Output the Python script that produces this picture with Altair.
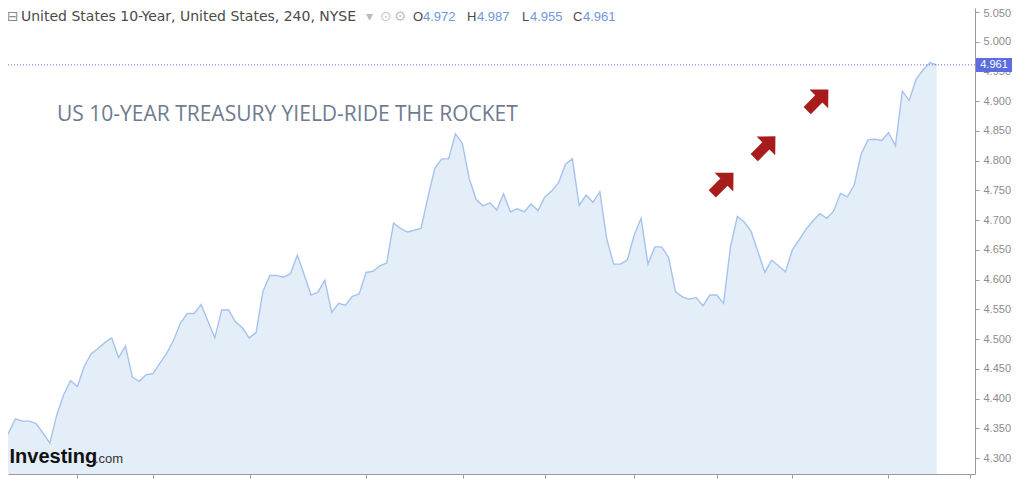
import altair as alt
import pandas as pd

# 240-minute closes of the US 10-year yield
yields = [4.325, 4.342, 4.366, 4.362, 4.362, 4.358, 4.342, 4.325, 4.372, 4.406,
          4.430, 4.420, 4.454, 4.475, 4.484, 4.494, 4.502, 4.469, 4.488, 4.436,
          4.429, 4.440, 4.442, 4.459, 4.476, 4.498, 4.527, 4.543, 4.543, 4.558,
          4.530, 4.502, 4.549, 4.549, 4.529, 4.519, 4.502, 4.511, 4.580, 4.607,
          4.607, 4.604, 4.610, 4.641, 4.608, 4.574, 4.579, 4.599, 4.545, 4.560,
          4.557, 4.572, 4.576, 4.612, 4.614, 4.623, 4.628, 4.695, 4.686, 4.680,
          4.683, 4.686, 4.739, 4.787, 4.803, 4.803, 4.845, 4.829, 4.770, 4.735,
          4.724, 4.729, 4.717, 4.744, 4.714, 4.719, 4.714, 4.727, 4.716, 4.739,
          4.749, 4.763, 4.794, 4.803, 4.725, 4.742, 4.730, 4.748, 4.669, 4.626,
          4.626, 4.633, 4.675, 4.703, 4.626, 4.655, 4.655, 4.637, 4.580, 4.571,
          4.567, 4.570, 4.556, 4.574, 4.574, 4.560, 4.655, 4.706, 4.697, 4.681,
          4.647, 4.612, 4.633, 4.623, 4.613, 4.650, 4.667, 4.685, 4.699, 4.711,
          4.703, 4.715, 4.745, 4.739, 4.759, 4.811, 4.835, 4.836, 4.834, 4.847,
          4.825, 4.917, 4.901, 4.937, 4.952, 4.965, 4.961]
bar_index = list(range(len(yields)))

x_tick_positions = [10.95, 22.0, 36.1, 53.0, 67.1, 79.0, 91.97, 104.0, 114.9, 128.9, 140.8]
x_tick_labels = ["21", "", "", "Oct", "", "", "", "", "", "", ""]
y_tick_values = [4.30, 4.35, 4.40, 4.45, 4.50, 4.55, 4.60, 4.65, 4.70, 4.75,
                 4.80, 4.85, 4.90, 4.95, 5.00, 5.05]
last_close = [4.961]
arrow_x = [104.9, 111.0, 118.7]
arrow_y = [4.762, 4.823, 4.902]
title_text = "US 10-YEAR TREASURY YIELD-RIDE THE ROCKET"

header_texts = ["⊟", "United States 10-Year, United States, 240, NYSE", "▾", "⊙", "⚙"]
header_x = [-1, 13, 358, 372, 386]
header_colors = ["#888888", "#4a4a4a", "#bbbbbb", "#c8c8c8", "#c8c8c8"]

ohlc_letters = ["O", "H", "L", "C"]
ohlc_values = ["4.972", "4.987", "4.955", "4.961"]
ohlc_letter_x = [405, 459, 514, 565]
ohlc_value_x = [415, 469, 522, 575]

W, H = 967, 466
x_domain = [0.916, 141.57]
y_domain = [4.2731, 5.0567]

df = pd.DataFrame({"i": bar_index, "y": yields})
xs = alt.Scale(domain=x_domain, nice=False, zero=False)
ys = alt.Scale(domain=y_domain, nice=False, zero=False)

expr_parts = []
for p, lab in zip(x_tick_positions, x_tick_labels):
    if lab:
        expr_parts.append(f"abs(datum.value - {p}) < 0.01 ? '{lab}'")
label_expr = " : ".join(expr_parts) + " : ''"

x_axis = alt.Axis(
    values=x_tick_positions, labelExpr=label_expr, orient="bottom", title=None,
    grid=False, domainColor="#9a9a9a", tickColor="#9a9a9a", tickSize=4,
    labelColor="#777777", labelFontSize=11, labelPadding=3, zindex=1,
    labelFont="Liberation Sans")
y_axis = alt.Axis(
    orient="right", values=y_tick_values, format=".3f", title=None, grid=False,
    domainColor="#9a9a9a", tickColor="#9a9a9a", tickSize=4, labelColor="#8c8c8c",
    labelFontSize=11, labelPadding=4, labelFont="Liberation Sans",
    labelOverlap=False, labelBound=False,
    labelOffset={"condition": {"test": "datum.value > 5.04", "value": 2}, "value": 0})

area = alt.Chart(df).mark_area(color="#e4eef9", clip=True).encode(
    x=alt.X("i:Q", scale=xs, axis=x_axis),
    y=alt.Y("y:Q", scale=ys, axis=y_axis),
    y2=alt.datum(y_domain[0]),
)

line = alt.Chart(df).mark_line(color="#a6c2ee", strokeWidth=1.4, clip=True).encode(
    x=alt.X("i:Q", scale=xs, axis=x_axis), y=alt.Y("y:Q", scale=ys, axis=y_axis))

lc = pd.DataFrame({"v": last_close})
price_line = alt.Chart(lc).mark_rule(color="#5a6fe0", strokeDash=[1, 2], strokeWidth=1).encode(
    y=alt.Y("v:Q", scale=ys, axis=y_axis), x=alt.value(0), x2=alt.value(W))
price_box = alt.Chart(lc).mark_rect(color="#5b6de0", yOffset=-7, y2Offset=7).encode(
    y=alt.Y("v:Q", scale=ys, axis=y_axis), y2="v:Q", x=alt.value(W + 1), x2=alt.value(W + 37))
price_text = alt.Chart(lc).mark_text(color="white", fontSize=11, align="center",
                                      baseline="middle", font="Liberation Sans").encode(
    y=alt.Y("v:Q", scale=ys, axis=y_axis), x=alt.value(W + 19),
    text=alt.Text("v:Q", format=".3f"))

arrow_path = "M -0.34 1 L -0.34 -0.1 L -0.88 -0.1 L 0 -1 L 0.88 -0.1 L 0.34 -0.1 L 0.34 1 Z"
arrows = alt.Chart(pd.DataFrame({"ax": arrow_x, "ay": arrow_y})).mark_point(
    shape=arrow_path, filled=True, color="#a81c1c", size=900, angle=45, opacity=1,
    strokeWidth=0).encode(x=alt.X("ax:Q", scale=xs, axis=x_axis),
                          y=alt.Y("ay:Q", scale=ys, axis=y_axis))

title = alt.Chart(pd.DataFrame({"t": [title_text]})).mark_text(
    align="left", baseline="middle", fontSize=21, font="Open Sans", color="#6e7b90").encode(
    x=alt.value(49), y=alt.value(107), text="t:N")

hdr = pd.DataFrame({"t": header_texts, "px": header_x, "c": header_colors})
header = alt.Chart(hdr).mark_text(align="left", baseline="middle", fontSize=14,
                                  font="DejaVu Sans").encode(
    x=alt.X("px:Q", scale=None), y=alt.value(9), text="t:N",
    color=alt.Color("c:N", scale=None))

ohlc = pd.DataFrame({"l": ohlc_letters, "v": ohlc_values,
                     "lx": ohlc_letter_x, "vx": ohlc_value_x})
ohlc_l = alt.Chart(ohlc).mark_text(align="left", baseline="middle", fontSize=13,
                                   font="Liberation Sans", color="#4a4a4a").encode(
    x=alt.X("lx:Q", scale=None), y=alt.value(9), text="l:N")
ohlc_v = alt.Chart(ohlc).mark_text(align="left", baseline="middle", fontSize=13,
                                   font="Liberation Sans", color="#6f95dd").encode(
    x=alt.X("vx:Q", scale=None), y=alt.value(9), text="v:N")

logo1 = alt.Chart(pd.DataFrame({"t": ["Investing"]})).mark_text(
    align="left", baseline="alphabetic", fontSize=20, fontWeight="bold",
    font="Liberation Sans", color="#111111", dx=-0.5).encode(
    x=alt.value(2), y=alt.value(455), text="t:N")
logo2 = alt.Chart(pd.DataFrame({"t": [".com"]})).mark_text(
    align="left", baseline="alphabetic", fontSize=13, font="Liberation Sans",
    color="#333333").encode(x=alt.value(87), y=alt.value(455), text="t:N")

chart = alt.layer(
    area, line, price_line, price_box, price_text, arrows, title, header,
    ohlc_l, ohlc_v, logo1, logo2
).properties(
    width=W, height=H,
    padding={"left": 0, "top": 0, "right": 41, "bottom": 5},
    autosize=alt.AutoSizeParams(type="none"),
).configure_view(stroke=None).configure_axis(labelOverlap=False)

chart.save("out.html", embed_options={"renderer": "svg", "actions": False})
